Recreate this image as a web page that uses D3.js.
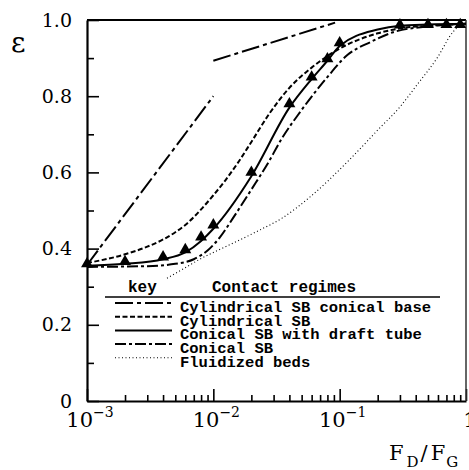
<!DOCTYPE html>
<html>
<head>
<meta charset="utf-8">
<script src="https://cdn.jsdelivr.net/npm/d3@7"></script>
<style>
    body { margin: 0; background: #fff; }
    .curve { fill: none; stroke: #000; }
</style>
</head>
<body>
<svg id="chartSVG" width="469" height="470"></svg>
<script>
//////////////////// DATA ////////////////////
// F_D/F_G values and voidage
const cylConicalBaseLow = [[1e-3, 0.357], [1e-2, 0.80]];
const cylConicalBaseHigh = [[1e-2, 0.893], [0.092, 0.993]];

const cylindricalSB = [
    [1e-3, 0.362], [2e-3, 0.385], [3e-3, 0.405], [4e-3, 0.424], [5e-3, 0.443],
    [6e-3, 0.462], [8e-3, 0.503], [1e-2, 0.54], [1.25e-2, 0.58], [1.6e-2, 0.63],
    [2e-2, 0.68], [2.8e-2, 0.756], [4e-2, 0.822], [6e-2, 0.875], [0.1, 0.925],
    [0.2, 0.965], [0.3, 0.978], [0.5, 0.985], [1, 0.99]
];

const draftTubeSB = [
    [1e-3, 0.355], [2e-3, 0.36], [4e-3, 0.372], [6e-3, 0.39], [8e-3, 0.42],
    [1e-2, 0.452], [2e-2, 0.59], [4e-2, 0.77], [6e-2, 0.845], [8e-2, 0.893],
    [0.1, 0.932], [0.2, 0.975], [0.3, 0.985], [0.5, 0.988], [1, 0.99]
];

const draftTubeMarkersX = [1e-3, 2e-3, 4e-3, 6e-3, 8e-3, 1e-2, 2e-2, 4e-2, 6e-2, 8e-2, 0.1, 0.3, 0.5, 0.7, 0.9];
const draftTubeMarkersY = [0.36, 0.366, 0.378, 0.397, 0.43, 0.462, 0.60, 0.78, 0.85, 0.898, 0.94, 0.987, 0.988, 0.988, 0.988];

const conicalSB = [
    [1e-3, 0.352], [3e-3, 0.354], [5e-3, 0.36], [7e-3, 0.372], [9e-3, 0.395],
    [1.13e-2, 0.43], [1.43e-2, 0.48], [2e-2, 0.555], [2.66e-2, 0.62],
    [3.5e-2, 0.69], [4.9e-2, 0.76], [7.9e-2, 0.848], [0.115, 0.908],
    [0.175, 0.942], [0.265, 0.968], [0.5, 0.983], [1, 0.99]
];

const fluidizedBeds = [
    [4.3e-3, 0.322], [6e-3, 0.35], [8e-3, 0.374], [1.13e-2, 0.398], [1.6e-2, 0.422],
    [2.34e-2, 0.449], [3.5e-2, 0.48], [5.8e-2, 0.535], [0.121, 0.635],
    [0.2, 0.711], [0.3, 0.772], [0.41, 0.83], [0.59, 0.90], [0.79, 0.969], [0.92, 0.99]
];

// ticks
const xMajorTicks = [1e-3, 1e-2, 1e-1, 1];
const xTickBase = ["10", "10", "10", "1"];
const xTickExp = ["\u22123", "\u22122", "\u22121", ""];
const yMajorTicks = [0, 0.2, 0.4, 0.6, 0.8, 1.0];
const yTickLabels = ["0", "0.2", "0.4", "0.6", "0.8", "1.0"];
const yMinorTicks = [0.1, 0.3, 0.5, 0.7, 0.9];

// legend
const legendLabels = [
    "Cylindrical SB conical base",
    "Cylindrical SB",
    "Conical SB with draft tube",
    "Conical SB",
    "Fluidized beds"
];


//////////////////// HANDLE SIZES ////////////////////
const plot = { left: 87, right: 466, top: 20, bottom: 401 };
const serif = "'DejaVu Serif', serif";
const mono = "'Liberation Mono', monospace";

const svg = d3.select("#chartSVG");


//////////////////// INITIALIZE SCALERS ////////////////////
const xScale = d3.scaleLog()
    .domain([1e-3, 1])
    .range([plot.left, plot.right]);

const yScale = d3.scaleLinear()
    .domain([0, 1])
    .range([plot.bottom, plot.top]);

// minor ticks 2..9 in every decade
const xMinorTicks = [];
[1e-3, 1e-2, 1e-1].forEach(d => {
    for (let k = 2; k <= 9; k++) xMinorTicks.push(d * k);
});


//////////////////// AXES ////////////////////
// x-axis minor
svg.append("g")
    .attr("transform", `translate(0, ${plot.bottom})`)
    .call(d3.axisBottom(xScale).tickValues(xMinorTicks).tickSize(-6).tickSizeOuter(0).tickFormat(""))
    .call(g => g.selectAll("line").attr("stroke-width", 1.6))
    .call(g => g.select(".domain").remove());

// x-axis major
svg.append("g")
    .attr("transform", `translate(0, ${plot.bottom})`)
    .call(d3.axisBottom(xScale).tickValues(xMajorTicks).tickSize(-12).tickSizeOuter(0).tickFormat(""))
    .call(g => g.selectAll("line").attr("stroke-width", 1.6))
    .call(g => g.select(".domain").attr("stroke-width", 2.2));

// y-axis minor
svg.append("g")
    .attr("transform", `translate(${plot.left}, 0)`)
    .call(d3.axisLeft(yScale).tickValues(yMinorTicks).tickSize(-7).tickSizeOuter(0).tickFormat(""))
    .call(g => g.selectAll("line").attr("stroke-width", 1.6))
    .call(g => g.select(".domain").remove());

// y-axis major with labels
svg.append("g")
    .attr("transform", `translate(${plot.left}, 0)`)
    .attr("font-family", serif)
    .attr("font-size", 19)
    .call(d3.axisLeft(yScale).tickValues(yMajorTicks).tickSize(-12).tickSizeOuter(0).tickPadding(15)
        .tickFormat((d, i) => yTickLabels[i]))
    .call(g => g.attr("font-family", serif).attr("font-size", 19))
    .call(g => g.selectAll("line").attr("stroke-width", 1.6))
    .call(g => g.select(".domain").attr("stroke-width", 2.2));

// frame top and right
svg.append("line")
    .attr("x1", plot.left).attr("x2", plot.right)
    .attr("y1", plot.top).attr("y2", plot.top)
    .attr("stroke", "#000").attr("stroke-width", 2.2);
svg.append("line")
    .attr("x1", plot.right).attr("x2", plot.right)
    .attr("y1", plot.top).attr("y2", plot.bottom)
    .attr("stroke", "#333").attr("stroke-width", 1.5);

// x tick labels, powers of ten
const xLabels = svg.selectAll(".xTickLabel")
    .data(xMajorTicks)
    .enter()
    .append("text")
    .attr("class", "xTickLabel")
    .attr("x", (d, i) => xScale(d) + (i < 3 ? 3 : 4))
    .attr("y", 427)
    .attr("text-anchor", "middle")
    .style("font-family", serif)
    .style("font-size", "21px");
xLabels.append("tspan").text((d, i) => xTickBase[i]);
xLabels.append("tspan")
    .attr("dy", -10)
    .style("font-size", "14px")
    .text((d, i) => xTickExp[i]);

// axis titles
svg.append("text")
    .attr("x", 11)
    .attr("y", 52)
    .style("font-family", serif)
    .style("font-size", "28px")
    .text("\u03b5");

const xTitle = svg.append("text")
    .attr("x", 389)
    .attr("y", 460)
    .style("font-family", serif)
    .style("font-size", "21px");
xTitle.append("tspan").text("F");
xTitle.append("tspan").attr("dx", 3).attr("dy", 7).style("font-size", "15px").text("D");
xTitle.append("tspan").attr("dx", 2).attr("dy", -7).text("/");
xTitle.append("tspan").attr("dx", 3).text("F");
xTitle.append("tspan").attr("dx", 1).attr("dy", 7).style("font-size", "15px").text("G");


//////////////////// CURVES ////////////////////
const lineGen = d3.line()
    .x(d => xScale(d[0]))
    .y(d => yScale(d[1]))
    .curve(d3.curveMonotoneX);

const series = [
    { data: cylConicalBaseLow, dash: "18,4,4,4", width: 2 },
    { data: cylConicalBaseHigh, dash: "18,4,4,4", width: 2 },
    { data: cylindricalSB, dash: "5,2.5", width: 2 },
    { data: draftTubeSB, dash: null, width: 2 },
    { data: conicalSB, dash: "11,3,3,3", width: 2 },
    { data: fluidizedBeds, dash: "1,2.5", width: 1.1 }
];

svg.selectAll(".curve")
    .data(series)
    .enter()
    .append("path")
    .attr("class", "curve")
    .attr("d", d => lineGen(d.data))
    .attr("stroke-width", d => d.width)
    .attr("stroke-dasharray", d => d.dash);

// triangle markers
svg.selectAll(".marker")
    .data(draftTubeMarkersX)
    .enter()
    .append("path")
    .attr("class", "marker")
    .attr("d", d3.symbol().type(d3.symbolTriangle).size(62))
    .attr("transform", (d, i) => `translate(${xScale(d)}, ${yScale(draftTubeMarkersY[i])})`)
    .attr("fill", "#000");


//////////////////// LEGEND ////////////////////
svg.append("line")
    .attr("x1", 105).attr("x2", 440)
    .attr("y1", 297).attr("y2", 297)
    .attr("stroke", "#000").attr("stroke-width", 1.5);

svg.append("text")
    .attr("x", 128).attr("y", 292)
    .style("font-family", mono).style("font-weight", "bold")
    .style("font-size", "16px")
    .text("key");
svg.append("text")
    .attr("x", 212).attr("y", 292)
    .style("font-family", mono).style("font-weight", "bold")
    .style("font-size", "16px")
    .text("Contact regimes");

const legendStyles = [series[0], series[2], series[3], series[4], series[5]];
const legendRows = svg.selectAll(".legendRow")
    .data(legendLabels)
    .enter()
    .append("g")
    .attr("class", "legendRow")
    .attr("transform", (d, i) => `translate(0, ${312 + i * 13.7})`);

legendRows.append("line")
    .attr("x1", 115).attr("x2", 172)
    .attr("y1", -9).attr("y2", -9)
    .attr("stroke", "#000")
    .attr("stroke-width", (d, i) => legendStyles[i].width)
    .attr("stroke-dasharray", (d, i) => legendStyles[i].dash);

legendRows.append("text")
    .attr("x", 180)
    .style("font-family", mono).style("font-weight", "bold")
    .style("font-size", "15.5px")
    .text(d => d);
</script>
</body>
</html>
